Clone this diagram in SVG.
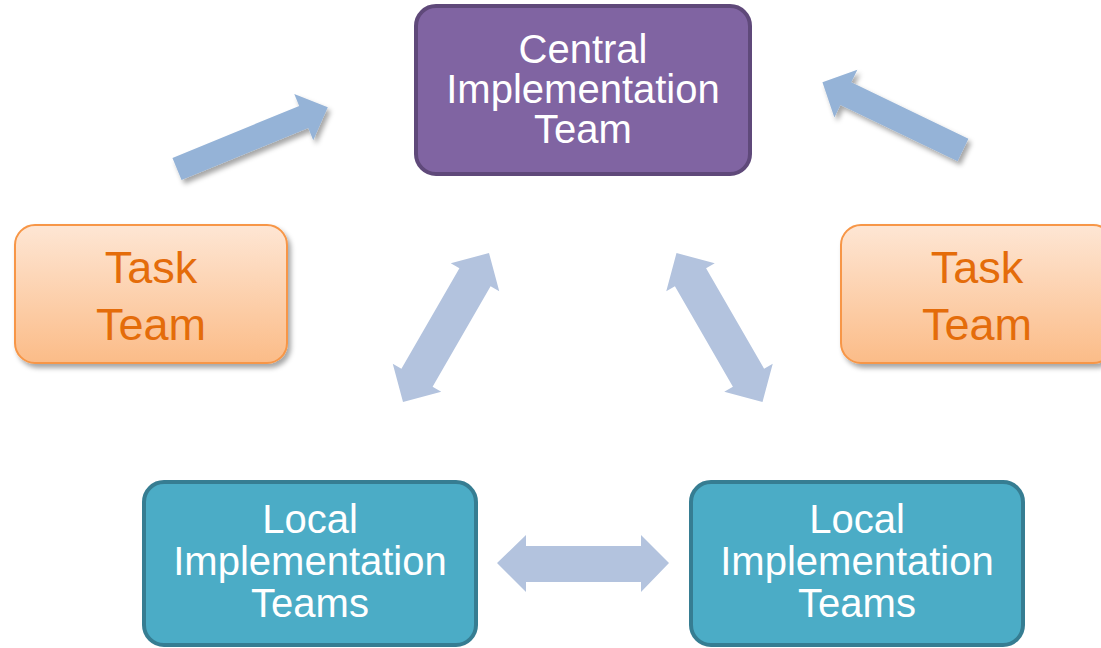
<svg xmlns="http://www.w3.org/2000/svg" width="1101" height="648" viewBox="0 0 1101 648">
<defs>
<linearGradient id="gTask" x1="0" y1="0" x2="0" y2="1">
<stop offset="0" stop-color="#fee6d4"/>
<stop offset="1" stop-color="#fbbc88"/>
</linearGradient>
<filter id="sh" x="-20%" y="-20%" width="140%" height="140%">
<feDropShadow dx="3" dy="4" stdDeviation="2.5" flood-color="#000" flood-opacity="0.35"/>
</filter>
</defs>
<style>
.t{font-family:"Liberation Sans",Arial,sans-serif;text-anchor:middle}
.w{fill:#ffffff;font-size:40px}
.o{fill:#e46c0a;font-size:45px}
.central{fill:#8064a2;stroke:#5f497a;stroke-width:4}
.task{fill:url(#gTask);stroke:#f79646;stroke-width:2}
.local{fill:#4bacc6;stroke:#367d92;stroke-width:4}
.a1{fill:#95b3d7}
.a2{fill:#b3c3de}
</style>
<g id="connectors">
<g filter="url(#sh)"><path class="a1" transform="translate(177,169) rotate(-22.3)" d="M0,-12 L137,-12 L137,-25 L163,0 L137,25 L137,12 L0,12 Z"/></g>
<g filter="url(#sh)"><path class="a1" transform="translate(963,150) rotate(-154.3)" d="M0,-12.5 L130,-12.5 L130,-26.5 L156,0 L130,26.5 L130,12.5 L0,12.5 Z"/></g>
<path class="a2" transform="translate(446,327.5) rotate(-60)" d="M-86,0 L-58,-28 L-58,-18 L58,-18 L58,-28 L86,0 L58,28 L58,18 L-58,18 L-58,28 Z"/>
<path class="a2" transform="translate(719.5,327.5) rotate(60)" d="M-86,0 L-58,-28 L-58,-18 L58,-18 L58,-28 L86,0 L58,28 L58,18 L-58,18 L-58,28 Z"/>
<path class="a2" d="M497,563 L526,535 L526,546 L641,546 L641,535 L669,563 L641,592 L641,582 L526,582 L526,592 Z"/>
</g>
<g id="central">
<rect class="central" x="416" y="6" width="334" height="168" rx="20"/>
<text class="t w" x="583" y="63">Central</text>
<text class="t w" x="583" y="103">Implementation</text>
<text class="t w" x="583" y="143">Team</text>
</g>
<g id="task-left">
<rect class="task" filter="url(#sh)" x="15" y="225" width="272" height="138" rx="20"/>
<text class="t o" x="151" y="283">Task</text>
<text class="t o" x="151" y="340">Team</text>
</g>
<g id="task-right">
<rect class="task" filter="url(#sh)" x="841" y="225" width="272" height="138" rx="20"/>
<text class="t o" x="977" y="283">Task</text>
<text class="t o" x="977" y="340">Team</text>
</g>
<g id="local-left">
<rect class="local" x="144" y="482" width="332" height="163" rx="20"/>
<text class="t w" x="310" y="533">Local</text>
<text class="t w" x="310" y="575">Implementation</text>
<text class="t w" x="310" y="617">Teams</text>
</g>
<g id="local-right">
<rect class="local" x="691" y="482" width="332" height="163" rx="20"/>
<text class="t w" x="857" y="533">Local</text>
<text class="t w" x="857" y="575">Implementation</text>
<text class="t w" x="857" y="617">Teams</text>
</g>
</svg>
